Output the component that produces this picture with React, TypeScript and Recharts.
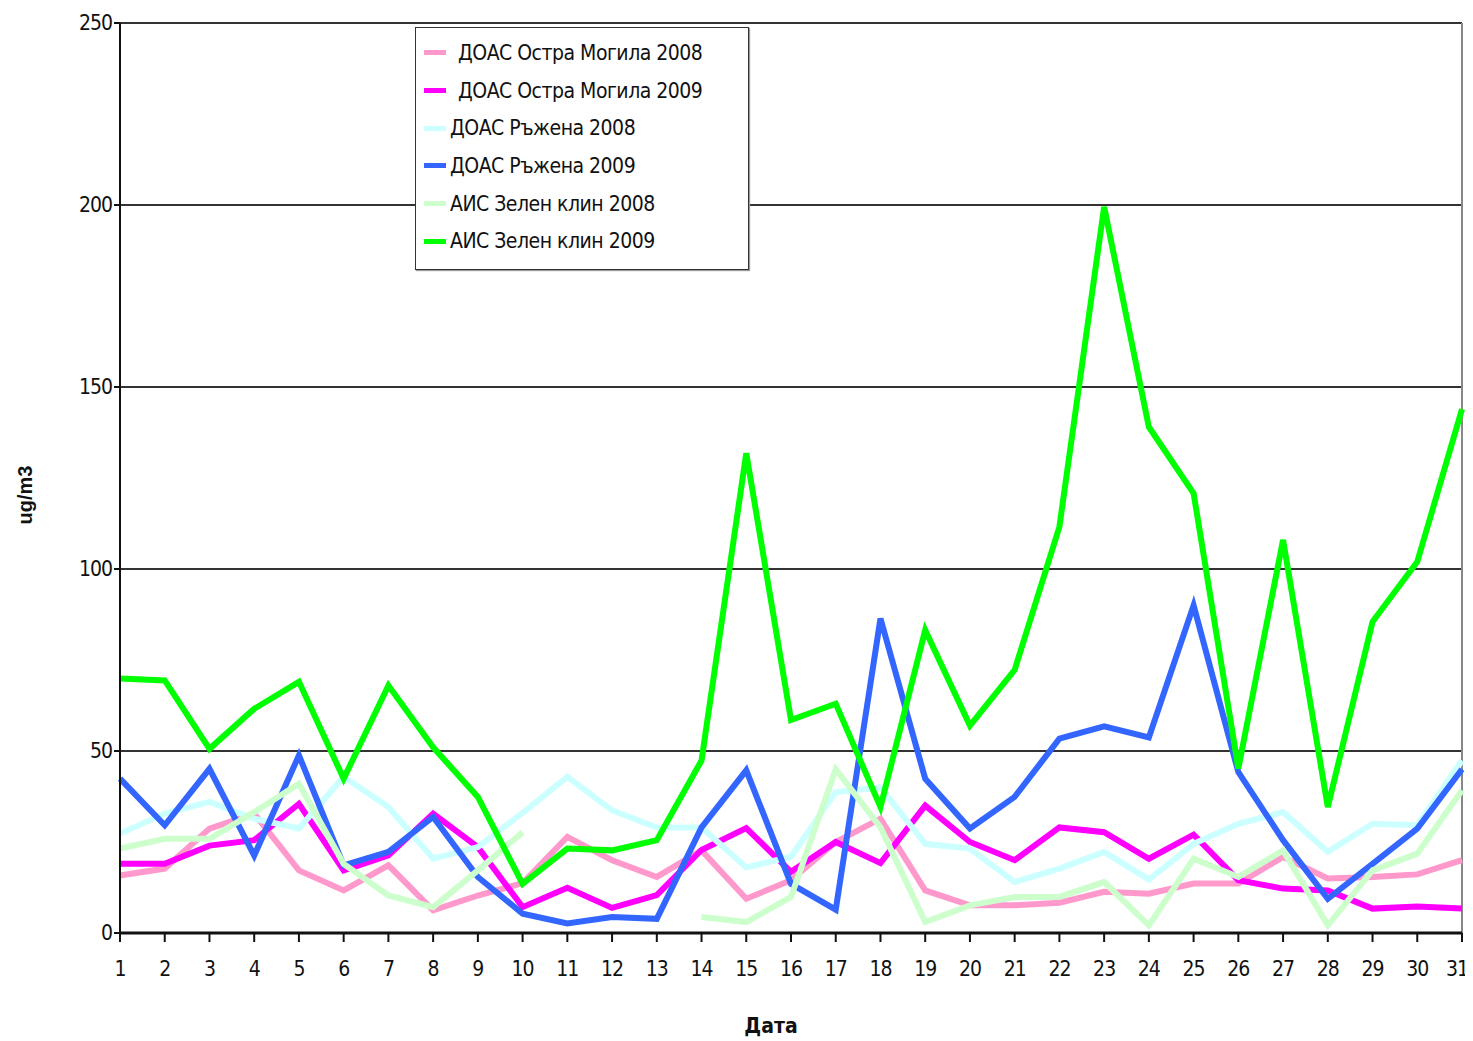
import { LineChart, Line, XAxis, YAxis, CartesianGrid, Legend, ReferenceLine } from "recharts";

const days = [1, 2, 3, 4, 5, 6, 7, 8, 9, 10, 11, 12, 13, 14, 15, 16, 17, 18, 19, 20, 21, 22, 23, 24, 25, 26, 27, 28, 29, 30, 31];

// ДОАС Остра Могила
const ostraMogila2008 = [15.8, 17.7, 28.7, 32.8, 17.2, 11.7, 18.6, 6.2, 10.3, 13.7, 26.4, 20, 15.4, 22.7, 9.4, 14.5, 25, 31.4, 11.7, 7.6, 7.6, 8.3, 11.3, 10.8, 13.6, 13.6, 20.9, 15, 15.4, 16.1, 20];
const ostraMogila2009 = [19, 19, 24, 25.5, 35.5, 17.2, 21.3, 32.8, 23.6, 7.1, 12.4, 6.9, 10.4, 22.8, 28.8, 16.8, 25, 19.2, 35, 25, 20, 29, 27.7, 20.4, 27, 14.5, 12.2, 11.7, 6.7, 7.3, 6.7];
// ДОАС Ръжена
const ruzhena2008 = [27.3, 32.8, 36, 31.4, 28.7, 42.9, 34.6, 20.4, 23.6, 33, 42.9, 33.7, 29, 29, 18, 21, 38.7, 40, 24.5, 23.2, 14, 17.7, 22.3, 14.7, 24.5, 30, 33.2, 22.3, 30, 29.6, 47.4];
const ruzhena2009 = [42.4, 29.6, 45.1, 21.3, 48.8, 18.6, 22.3, 31.9, 15.4, 5.3, 2.6, 4.4, 3.9, 29, 44.7, 13.5, 6.4, 86.4, 42.4, 28.7, 37.4, 53.4, 56.8, 53.7, 90, 44.2, 25.5, 9.4, 19, 28.7, 45];
// АИС Зелен клин
const zelenKlin2008 = [23.2, 25.9, 25.9, 33.2, 41, 19, 10.3, 7.1, 17.2, 27.7, null, null, null, 4.4, 3, 9.9, 45, 29, 3, 7.6, 9.9, 9.9, 14, 2.1, 20.4, 15.4, 22.7, 2.1, 17.2, 21.8, 39.2];
const zelenKlin2009 = [69.9, 69.4, 50.6, 61.6, 69, 42.4, 68, 51, 37.4, 13.5, 23.2, 22.7, 25.5, 47.4, 131.8, 58.5, 63, 34.6, 83.2, 57, 72.3, 111.6, 199.5, 139, 120.8, 45.2, 108, 34.6, 85.5, 102, 143.9];

const yTicks = [0, 50, 100, 150, 200, 250];

const series = [
  { key: "om2008", name: "ДОАС Остра Могила 2008", color: "#FF99CC", values: ostraMogila2008, indent: true },
  { key: "om2009", name: "ДОАС Остра Могила 2009", color: "#FF00FF", values: ostraMogila2009, indent: true },
  { key: "r2008", name: "ДОАС Ръжена 2008", color: "#CCFFFF", values: ruzhena2008, indent: false },
  { key: "r2009", name: "ДОАС Ръжена 2009", color: "#3366FF", values: ruzhena2009, indent: false },
  { key: "z2008", name: "АИС Зелен клин 2008", color: "#CCFFCC", values: zelenKlin2008, indent: false },
  { key: "z2009", name: "АИС Зелен клин 2009", color: "#00FF00", values: zelenKlin2009, indent: false },
];

const data = days.map((d, i) => {
  const row: any = { day: d };
  series.forEach((s) => {
    row[s.key] = s.values[i];
  });
  return row;
});

const FONT = "'DejaVu Sans Condensed', 'Liberation Sans Narrow', 'Liberation Sans', Arial, sans-serif";

function LegendBox() {
  return (
    <div
      style={{
        border: "1.5px solid #333",
        boxShadow: "1px 1px 1px #999",
        background: "#fff",
        padding: "6px 10px 10px 8px",
        fontFamily: FONT,
        fontSize: 21,
        letterSpacing: -0.5,
        color: "#111",
        boxSizing: "border-box",
        height: 243,
      }}
    >
      {series.map((s) => (
        <div key={s.key} style={{ display: "flex", alignItems: "center", height: 37.7 }}>
          <span style={{ display: "inline-block", width: 22, height: 5, background: s.color, marginRight: s.indent ? 12 : 4 }} />
          <span style={{ whiteSpace: "nowrap" }}>{s.name}</span>
        </div>
      ))}
    </div>
  );
}

// x tick; the last one is nudged left so it stays inside the picture
function DayTick(props: any) {
  const { x, y, payload, index } = props;
  const last = index === days.length - 1;
  return (
    <text
      x={x + (last ? -5 : 0)}
      y={y + 32}
      textAnchor="middle"
      fontSize={21}
      letterSpacing={-1}
      fill="#111"
      fontFamily={FONT}
    >
      {payload.value}
    </text>
  );
}

// rotated y-axis title, a bit below the plot's middle like the original
function YTitle(props: any) {
  const { viewBox } = props;
  const cx = viewBox.x - 35;
  const cy = viewBox.y + viewBox.height / 2 + 17;
  return (
    <text
      x={cx}
      y={cy}
      transform={`rotate(-90, ${cx}, ${cy})`}
      textAnchor="middle"
      dominantBaseline="central"
      fontSize={20}
      fontWeight="bold"
      fill="#111"
      fontFamily="'Liberation Sans', Arial, sans-serif"
    >
      ug/m3
    </text>
  );
}

export default function App() {
  return (
    <LineChart
      width={1465}
      height={1033}
      data={data}
      margin={{ top: 15, right: 11, bottom: 48, left: 52 }}
      style={{ fontFamily: FONT }}
    >
      <CartesianGrid vertical={false} stroke="#333" strokeWidth={2} />
      <XAxis
        dataKey="day"
        height={60}
        tick={<DayTick />}
        tickLine={{ stroke: "#111", strokeWidth: 2 }}
        axisLine={{ stroke: "#111", strokeWidth: 3 }}
        tickSize={9}
        interval={0}
        label={{ value: "Дата", position: "insideBottom", offset: -40, dx: -20, fontSize: 21, fontWeight: "bold", fill: "#111", fontFamily: FONT }}
      />
      <YAxis
        width={60}
        domain={[0, 250]}
        ticks={yTicks}
        tick={{ fontSize: 21, fill: "#111", fontFamily: FONT, letterSpacing: -1 }}
        tickLine={{ stroke: "#111", strokeWidth: 2 }}
        axisLine={{ stroke: "#111", strokeWidth: 2 }}
        tickSize={6}
        label={<YTitle />}
      />
      <ReferenceLine x={31} stroke="#888" strokeWidth={2} />
      <Legend
        layout="vertical"
        verticalAlign="middle"
        align="center"
        content={<LegendBox />}
        wrapperStyle={{ left: 407, top: 19, width: 334, height: 243 }}
      />
      {series.map((s) => (
        <Line
          key={s.key}
          type="linear"
          dataKey={s.key}
          name={s.name}
          stroke={s.color}
          strokeWidth={6}
          dot={false}
          activeDot={false}
          isAnimationActive={false}
        />
      ))}
    </LineChart>
  );
}
